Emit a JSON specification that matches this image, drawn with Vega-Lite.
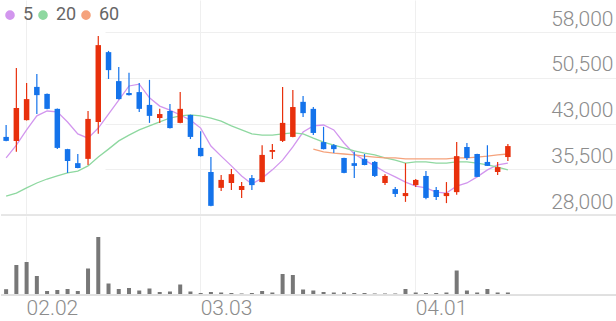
{
 "$schema": "https://vega.github.io/schema/vega-lite/v6.json",
 "padding": 0,
 "background": "white",
 "config": {"view": {"stroke": null}, "font": "Roboto", "concat": {"spacing": 0}, "legend": {"labelFontSize": 18, "symbolSize": 25}},
 "data": {"values": [
  {"d":"01.29","o":40800,"h":42750,"l":40100,"c":40150,"v":58000,"ma5":37350,"ma20":31100,"ma60":null},
  {"d":"01.30","o":40150,"h":52100,"l":38350,"c":45550,"v":300000,"ma5":39450,"ma20":31600,"ma60":null},
  {"d":"02.02","o":43550,"h":49650,"l":43500,"c":47000,"v":330000,"ma5":41950,"ma20":32450,"ma60":null},
  {"d":"02.03","o":49000,"h":51100,"l":44550,"c":47650,"v":190000,"ma5":44250,"ma20":33250,"ma60":null},
  {"d":"02.04","o":47850,"h":47900,"l":45350,"c":45400,"v":40000,"ma5":45050,"ma20":33900,"ma60":null},
  {"d":"02.05","o":45400,"h":45450,"l":38800,"c":39000,"v":50000,"ma5":44900,"ma20":34400,"ma60":null},
  {"d":"02.06","o":38800,"h":38850,"l":34900,"c":36850,"v":60000,"ma5":43250,"ma20":34900,"ma60":null},
  {"d":"02.09","o":36500,"h":38000,"l":35650,"c":35700,"v":40000,"ma5":41300,"ma20":35200,"ma60":null},
  {"d":"02.10","o":37200,"h":45050,"l":36200,"c":43750,"v":265000,"ma5":40600,"ma20":36050,"ma60":null},
  {"d":"02.11","o":43250,"h":57350,"l":41300,"c":55850,"v":580000,"ma5":42250,"ma20":37500,"ma60":null},
  {"d":"02.12","o":54700,"h":54900,"l":50300,"c":51750,"v":115000,"ma5":44550,"ma20":38800,"ma60":null},
  {"d":"02.13","o":49950,"h":52250,"l":46950,"c":47000,"v":60000,"ma5":46850,"ma20":40150,"ma60":null},
  {"d":"02.19","o":48000,"h":51300,"l":47600,"c":47650,"v":70000,"ma5":49150,"ma20":41100,"ma60":null},
  {"d":"02.20","o":48150,"h":49650,"l":44900,"c":45400,"v":45000,"ma5":49450,"ma20":41950,"ma60":null},
  {"d":"02.23","o":46050,"h":50150,"l":43100,"c":44250,"v":65000,"ma5":47200,"ma20":42600,"ma60":null},
  {"d":"02.24","o":43900,"h":45400,"l":43100,"c":44550,"v":30000,"ma5":45850,"ma20":43250,"ma60":null},
  {"d":"02.25","o":45050,"h":46200,"l":42200,"c":42250,"v":35000,"ma5":45200,"ma20":43900,"ma60":null},
  {"d":"02.26","o":43100,"h":48150,"l":43050,"c":45400,"v":105000,"ma5":44400,"ma20":44250,"ma60":null},
  {"d":"02.27","o":44400,"h":44450,"l":40450,"c":40800,"v":35000,"ma5":43550,"ma20":44400,"ma60":null},
  {"d":"03.03","o":39000,"h":41750,"l":37600,"c":37650,"v":20000,"ma5":42250,"ma20":44250,"ma60":null},
  {"d":"03.04","o":35050,"h":37500,"l":29450,"c":29500,"v":30000,"ma5":39300,"ma20":43900,"ma60":null},
  {"d":"03.05","o":32450,"h":34550,"l":31950,"c":33750,"v":25000,"ma5":37650,"ma20":43400,"ma60":null},
  {"d":"03.06","o":33250,"h":35550,"l":32100,"c":34700,"v":20000,"ma5":36050,"ma20":42600,"ma60":null},
  {"d":"03.09","o":32100,"h":33400,"l":30800,"c":32750,"v":15000,"ma5":34400,"ma20":41950,"ma60":null},
  {"d":"03.10","o":34050,"h":34550,"l":32100,"c":32900,"v":20000,"ma5":33100,"ma20":41300,"ma60":null},
  {"d":"03.11","o":33400,"h":39450,"l":33350,"c":37850,"v":40000,"ma5":34050,"ma20":41100,"ma60":null},
  {"d":"03.12","o":38350,"h":39650,"l":37200,"c":38650,"v":25000,"ma5":35400,"ma20":41100,"ma60":null},
  {"d":"03.13","o":40150,"h":49000,"l":39950,"c":43100,"v":210000,"ma5":37000,"ma20":41300,"ma60":null},
  {"d":"03.16","o":40800,"h":48500,"l":40750,"c":45700,"v":200000,"ma5":39150,"ma20":41450,"ma60":null},
  {"d":"03.17","o":46550,"h":47500,"l":44050,"c":44700,"v":55000,"ma5":41600,"ma20":41300,"ma60":null},
  {"d":"03.18","o":45400,"h":45700,"l":41100,"c":41450,"v":45000,"ma5":42600,"ma20":40600,"ma60":38800},
  {"d":"03.19","o":39950,"h":42450,"l":38750,"c":38800,"v":30000,"ma5":42750,"ma20":39950,"ma60":38350},
  {"d":"03.20","o":39450,"h":39650,"l":38150,"c":38800,"v":25000,"ma5":41950,"ma20":39450,"ma60":38150},
  {"d":"03.23","o":37350,"h":37400,"l":34850,"c":34900,"v":25000,"ma5":39800,"ma20":39000,"ma60":38000},
  {"d":"03.24","o":36500,"h":38350,"l":34050,"c":36050,"v":20000,"ma5":38000,"ma20":38500,"ma60":37850},
  {"d":"03.25","o":37200,"h":38000,"l":36150,"c":36200,"v":20000,"ma5":37000,"ma20":38150,"ma60":37650},
  {"d":"03.26","o":36700,"h":36850,"l":34250,"c":34400,"v":15000,"ma5":36050,"ma20":37850,"ma60":37500},
  {"d":"03.27","o":33250,"h":34700,"l":32900,"c":34400,"v":15000,"ma5":35050,"ma20":37350,"ma60":37350},
  {"d":"03.30","o":32250,"h":32600,"l":30950,"c":31450,"v":15000,"ma5":34250,"ma20":37000,"ma60":37350},
  {"d":"03.31","o":31100,"h":36500,"l":30150,"c":31600,"v":60000,"ma5":33400,"ma20":36500,"ma60":37200},
  {"d":"04.01","o":32900,"h":33900,"l":32600,"c":33750,"v":25000,"ma5":32750,"ma20":36700,"ma60":37200},
  {"d":"04.02","o":34400,"h":35200,"l":30600,"c":30800,"v":20000,"ma5":32450,"ma20":36700,"ma60":37200},
  {"d":"04.03","o":32100,"h":32600,"l":30450,"c":30950,"v":20000,"ma5":31750,"ma20":36500,"ma60":37200},
  {"d":"04.06","o":31100,"h":33400,"l":29950,"c":31600,"v":25000,"ma5":31600,"ma20":36500,"ma60":37200},
  {"d":"04.07","o":31750,"h":39950,"l":31300,"c":37650,"v":245000,"ma5":32750,"ma20":36700,"ma60":37350},
  {"d":"04.08","o":39150,"h":39800,"l":37000,"c":37350,"v":45000,"ma5":33250,"ma20":36700,"ma60":37350},
  {"d":"04.09","o":38000,"h":38050,"l":34250,"c":34250,"v":25000,"ma5":34250,"ma20":36500,"ma60":37500},
  {"d":"04.10","o":36700,"h":39450,"l":36050,"c":36050,"v":60000,"ma5":35400,"ma20":36200,"ma60":37650},
  {"d":"04.13","o":35050,"h":36700,"l":34550,"c":35850,"v":25000,"ma5":36200,"ma20":35850,"ma60":37850},
  {"d":"04.14","o":37500,"h":39650,"l":36850,"c":39300,"v":25000,"ma5":36500,"ma20":35400,"ma60":38000}
 ]},
 "vconcat": [
  {
   "width": 616,
   "height": 215,
   "layer": [
    {
     "mark": {"type": "rule", "color": "#e6e6e6", "strokeWidth": 1},
     "encoding": {
      "y": {"datum": 28000, "type": "quantitative", "scale": {"domain": [28000, 63246], "nice": false, "zero": false},
            "axis": {"orient": "right", "values": [28000, 35500, 43000, 50500, 58000], "labelExpr": "format(datum.value, ',')", "labelAlign": "right", "labelBaseline": "alphabetic", "labelPadding": -4, "labelOffset": -7, "labelFontSize": 21, "labelColor": "#8c8c8c", "labelFont": "Roboto", "labelFontWeight": 300, "ticks": false, "tickSize": 0, "domain": false, "grid": true, "gridColor": "#efefef", "title": null}}
     }
    },
    {
     "transform": [{"fold": ["ma5", "ma20", "ma60"], "as": ["ma", "val"]}],
     "mark": {"type": "line", "strokeWidth": 1.3},
     "encoding": {
      "x": {"field": "d", "type": "ordinal", "sort": null, "scale": {"type": "band", "range": [0, 512], "paddingInner": 0, "paddingOuter": 0},
            "axis": {"values": ["02.02", "03.03", "04.01"], "labels": false, "ticks": false, "tickSize": 0, "domain": false, "grid": true, "gridColor": "#efefef", "bandPosition": 0.5, "title": null}},
      "y": {"field": "val", "type": "quantitative", "scale": {"domain": [28000, 63246], "nice": false, "zero": false},
            "axis": {"orient": "right", "values": [28000, 35500, 43000, 50500, 58000], "labelExpr": "format(datum.value, ',')", "labelAlign": "right", "labelBaseline": "alphabetic", "labelPadding": -4, "labelOffset": -7, "labelFontSize": 21, "labelColor": "#8c8c8c", "labelFont": "Roboto", "labelFontWeight": 300, "ticks": false, "tickSize": 0, "domain": false, "grid": true, "gridColor": "#efefef", "title": null}},
      "color": {"field": "ma", "type": "nominal", "scale": {"domain": ["ma5", "ma20", "ma60"], "range": ["#d296ee", "#8ed8a0", "#f5a27c"]},
                "legend": {"orient": "none", "legendX": 0, "legendY": 6, "direction": "horizontal", "gridAlign": "each", "title": null, "symbolType": "circle", "symbolSize": 25, "labelFontSize": 18, "labelColor": "#666666", "labelOffset": 4, "columnPadding": -9, "padding": 0, "labelExpr": "replace(datum.label, 'ma', '')",
                           "encode": {"symbols": {"update": {"strokeWidth": {"value": 4.6}, "opacity": {"value": 1}, "size": {"value": 25}}}, "labels": {"update": {"fontSize": {"value": 18}}}}}}
     }
    },
    {
     "mark": {"type": "rule", "strokeWidth": 1.2},
     "encoding": {
      "x": {"field": "d", "type": "ordinal", "sort": null, "scale": {"type": "band", "range": [0, 512], "paddingInner": 0, "paddingOuter": 0},
            "axis": {"values": ["02.02", "03.03", "04.01"], "labels": false, "ticks": false, "tickSize": 0, "domain": false, "grid": true, "gridColor": "#efefef", "bandPosition": 0.5, "title": null}},
      "y": {"field": "l", "type": "quantitative", "scale": {"domain": [28000, 63246], "nice": false, "zero": false}},
      "y2": {"field": "h"},
      "color": {"condition": {"test": "datum.c >= datum.o", "value": "#e8300c"}, "value": "#1473eb"}
     }
    },
    {
     "mark": {"type": "bar", "width": 5.5},
     "encoding": {
      "x": {"field": "d", "type": "ordinal", "sort": null, "scale": {"type": "band", "range": [0, 512], "paddingInner": 0, "paddingOuter": 0},
            "axis": {"values": ["02.02", "03.03", "04.01"], "labels": false, "ticks": false, "tickSize": 0, "domain": false, "grid": true, "gridColor": "#efefef", "bandPosition": 0.5, "title": null}},
      "y": {"field": "o", "type": "quantitative", "scale": {"domain": [28000, 63246], "nice": false, "zero": false}},
      "y2": {"field": "c"},
      "color": {"condition": {"test": "datum.c >= datum.o", "value": "#e8300c"}, "value": "#1473eb"}
     }
    }
   ]
  },
  {
   "width": 616,
   "height": 79,
   "layer": [
    {
     "mark": {"type": "bar", "width": 4, "color": "#777777"},
     "encoding": {
      "x": {"field": "d", "type": "ordinal", "sort": null, "scale": {"type": "band", "range": [0, 512], "paddingInner": 0, "paddingOuter": 0},
            "axis": {"values": ["02.02", "03.03", "04.01"], "grid": true, "gridColor": "#efefef", "bandPosition": 0.5, "ticks": false, "tickSize": 0, "domain": false, "labelAlign": "left", "labelBaseline": "alphabetic", "labelPadding": 19, "labelFontSize": 21, "labelFontWeight": 300, "labelColor": "#8c8c8c", "labelAngle": 0, "title": null}},
      "y": {"field": "v", "type": "quantitative", "scale": {"domain": [0, 790000]}, "axis": null}
     }
    },
    {
     "mark": {"type": "rule", "color": "#e0e0e0", "strokeWidth": 1},
     "encoding": {
      "y": {"datum": 0, "type": "quantitative", "scale": {"domain": [0, 790000]}, "axis": null}
     }
    }
   ]
  }
 ]
}
